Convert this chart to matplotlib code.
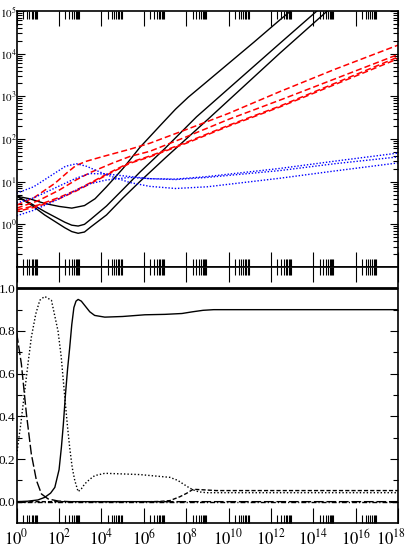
import numpy as np
import matplotlib.pyplot as plt
from matplotlib.ticker import FixedLocator, NullFormatter
from matplotlib.transforms import ScaledTranslation

plt.rcParams['font.family'] = ['Liberation Serif', 'DejaVu Serif']
plt.rcParams['mathtext.fontset'] = 'stix'

# ---------------- top panel (values are log10 x, log10 y) ----------------
blk_hi_lx = [0, 0.6, 1.32, 2.0, 2.6, 3.2, 3.7, 4.24, 5.02, 5.81, 6.8, 7.5, 8.1, 8.8, 10, 11.2, 12.42, 13.3]
blk_hi_ly = [0.66, 0.6, 0.49, 0.42, 0.38, 0.44, 0.6, 0.88, 1.31, 1.80, 2.33, 2.70, 2.98, 3.27, 3.77, 4.27, 4.79, 5.15]

blk_mid_lx = [0, 0.7, 1.32, 2.27, 2.6, 2.9, 3.2, 3.5, 4.24, 5.02, 5.81, 7, 8.49, 10.5, 12.42, 14.4]
blk_mid_ly = [0.66, 0.48, 0.30, 0.05, -0.02, -0.04, 0.0, 0.12, 0.43, 0.82, 1.22, 1.78, 2.52, 3.4, 4.24, 5.1]

blk_lo_lx = [0, 0.7, 1.32, 2.27, 2.6, 2.9, 3.2, 3.5, 4.24, 5.02, 5.81, 7, 9, 12.42, 15]
blk_lo_ly = [0.66, 0.45, 0.22, -0.08, -0.17, -0.21, -0.18, -0.06, 0.22, 0.62, 1.0, 1.55, 2.45, 4.01, 5.15]

red_a_lx = [0, 0.8, 1.8, 2.4, 2.8, 3.3, 4, 5.34, 6.28, 8, 10, 12.42, 15, 18]
red_a_ly = [0.45, 0.62, 0.96, 1.22, 1.38, 1.48, 1.58, 1.76, 1.9, 2.22, 2.6, 3.11, 3.63, 4.2]

red_b_lx = [0, 1, 2, 2.8, 3.5, 4.5, 5.34, 6.28, 8, 10, 12.42, 18]
red_b_ly = [0.38, 0.55, 0.8, 1.04, 1.22, 1.43, 1.59, 1.71, 2.05, 2.46, 2.91, 3.98]

red_c_lx = [0, 1, 2, 2.8, 3.5, 4.5, 5.34, 6.28, 8, 10, 12.42, 18]
red_c_ly = [0.34, 0.45, 0.63, 0.80, 0.98, 1.24, 1.45, 1.6, 1.92, 2.32, 2.77, 3.92]
red_d_ly = [0.30, 0.42, 0.60, 0.78, 0.96, 1.22, 1.43, 1.58, 1.90, 2.30, 2.75, 3.88]

blue_a_lx = [0, 0.8, 1.8, 2.3, 2.82, 3.3, 4.24, 5.34, 6.28, 7.5, 9, 12.42, 15, 18]
blue_a_ly = [0.73, 0.88, 1.2, 1.36, 1.42, 1.36, 1.16, 0.98, 0.89, 0.84, 0.88, 1.08, 1.25, 1.44]

blue_b_lx = [0, 0.8, 1.8, 2.8, 3.45, 4.24, 5.34, 6.28, 7.5, 9, 12.42, 15, 18]
blue_b_ly = [0.5, 0.62, 0.85, 1.08, 1.19, 1.18, 1.12, 1.07, 1.06, 1.12, 1.31, 1.48, 1.67]
blue_c_ly = [0.2, 0.33, 0.55, 0.8, 0.95, 1.04, 1.1, 1.07, 1.05, 1.1, 1.26, 1.42, 1.58]

# ---------------- bottom panel (log10 x, fraction) ----------------
solid_lx = [0, 0.5, 1.0, 1.32, 1.6, 1.8, 2.0, 2.11, 2.2, 2.3, 2.4, 2.5, 2.6, 2.7, 2.8, 2.9,
            3.05, 3.21, 3.45, 3.68, 4.16, 5, 6.05, 7, 7.8, 8.3, 8.8, 9.3, 10, 12, 18]
solid_y = [0, 0.002, 0.008, 0.02, 0.04, 0.067, 0.15, 0.255, 0.36, 0.5, 0.62, 0.72, 0.83, 0.91, 0.94,
           0.948, 0.94, 0.92, 0.89, 0.873, 0.865, 0.868, 0.876, 0.878, 0.882, 0.89, 0.897, 0.9, 0.9, 0.9, 0.9]

dot_lx = [0, 0.2, 0.38, 0.55, 0.69, 0.9, 1.09, 1.32, 1.64, 1.95, 2.1, 2.27, 2.4, 2.5, 2.62, 2.74, 2.9,
          3.05, 3.21, 3.45, 3.68, 4.16, 5, 5.81, 7.23, 7.6, 7.86, 8.1, 8.33, 8.6, 8.96, 10, 18]
dot_y = [0.22, 0.37, 0.52, 0.66, 0.77, 0.88, 0.944, 0.962, 0.944, 0.80, 0.68, 0.49, 0.35, 0.255, 0.16,
         0.1, 0.047, 0.06, 0.083, 0.105, 0.122, 0.133, 0.13, 0.127, 0.114, 0.1, 0.083, 0.068, 0.055, 0.046,
         0.042, 0.042, 0.042]

ldash_lx = [0, 0.22, 0.46, 0.69, 0.93, 1.17, 1.48, 1.95, 2.5, 18]
ldash_y = [0.79, 0.646, 0.41, 0.224, 0.1, 0.036, 0.013, 0.003, 0.0, 0.0]

sdash_lx = [0, 6.3, 6.75, 7.23, 7.7, 8.02, 8.33, 8.72, 9.43, 10, 18]
sdash_y = [0, 0.0, 0.001, 0.005, 0.023, 0.039, 0.058, 0.056, 0.052, 0.052, 0.052]

ddot_lx = [0, 18]
ddot_y = [0, 0]

W, H = 407, 553
fig = plt.figure(figsize=(W / 100, H / 100), dpi=100)
x0, x1 = 16.7 / W, 398 / W
ax1 = fig.add_axes([x0, 1 - 267 / H, x1 - x0, 256 / H])
ax2 = fig.add_axes([x0, 1 - 523 / H, x1 - x0, 256 / H])


def p(v):
    return np.power(10.0, v)


lw = 1.0
ax1.plot(p(blk_hi_lx), p(blk_hi_ly), color='black', lw=lw)
ax1.plot(p(blk_mid_lx), p(blk_mid_ly), color='black', lw=lw)
ax1.plot(p(blk_lo_lx), p(blk_lo_ly), color='black', lw=lw)
red_ls = (0, (4, 2))
ax1.plot(p(red_a_lx), p(red_a_ly), color='red', lw=1.1, ls=red_ls)
ax1.plot(p(red_b_lx), p(red_b_ly), color='red', lw=1.1, ls=red_ls)
ax1.plot(p(red_c_lx), p(red_c_ly), color='red', lw=1.1, ls=red_ls)
ax1.plot(p(red_c_lx), p(red_d_ly), color='red', lw=1.1, ls=(2, (4, 2)))
blue_ls = (0, (1, 1.3))
ax1.plot(p(blue_a_lx), p(blue_a_ly), color='blue', lw=1.0, ls=blue_ls)
ax1.plot(p(blue_b_lx), p(blue_b_ly), color='blue', lw=1.0, ls=blue_ls)
ax1.plot(p(blue_b_lx), p(blue_c_ly), color='blue', lw=1.0, ls=blue_ls)

ax2.plot(p(solid_lx), solid_y, color='black', lw=lw)
ax2.plot(p(dot_lx), dot_y, color='black', lw=lw, ls=(0, (1, 1.5)))
ax2.plot(p(ldash_lx), ldash_y, color='black', lw=lw, ls=(0, (7, 2)))
ax2.plot(p(sdash_lx), sdash_y, color='black', lw=lw, ls=(0, (3, 1.5)))
ax2.plot(p(ddot_lx), ddot_y, color='black', lw=lw, ls=(0, (3.5, 1.5, 0.8, 1.5)))
ax2.axhline(1.0, color='black', lw=2)

xmaj = [10.0 ** k for k in range(0, 19, 2)]
xmin = [m * 10.0 ** k for k in range(0, 17, 2) for m in range(2, 10)]

for ax in (ax1, ax2):
    ax.set_xscale('log')
    ax.set_xlim(1, 1e18)
    ax.xaxis.set_major_locator(FixedLocator(xmaj))
    ax.xaxis.set_minor_locator(FixedLocator(xmin))
    ax.xaxis.set_minor_formatter(NullFormatter())
    ax.tick_params(axis='x', which='major', direction='in', top=True, bottom=True, length=11, width=0.8)
    ax.tick_params(axis='x', which='minor', direction='in', top=True, bottom=True, length=5.5, width=0.8)
    ax.tick_params(axis='y', which='major', direction='in', left=True, right=True, length=6, width=0.8)
    ax.tick_params(axis='y', which='minor', direction='in', left=True, right=True, length=3.5, width=0.8)
    for s in ax.spines.values():
        s.set_linewidth(1.2)

ax1.set_yscale('log')
ax1.set_ylim(0.1, 1e5)
ax1.yaxis.set_major_locator(FixedLocator([10.0 ** k for k in range(0, 6)]))
ax1.yaxis.set_minor_locator(FixedLocator([m * 10.0 ** k for k in range(-1, 5) for m in range(2, 10)]))
ax1.yaxis.set_minor_formatter(NullFormatter())
ax1.set_yticklabels([r'$10^{%d}$' % k for k in range(0, 6)], fontsize=8)
ax1.tick_params(axis='y', which='major', pad=0)
ax1.set_xticklabels([])

ytick_vals = [0.0, 0.2, 0.4, 0.6, 0.8, 1.0]
ytick_text = ['0.0', '0.2', '0.4', '0.6', '0.8', '1.0']
ax2.set_ylim(-0.1, 1.1)
ax2.yaxis.set_major_locator(FixedLocator(ytick_vals))
ax2.yaxis.set_minor_locator(FixedLocator([0.1, 0.3, 0.5, 0.7, 0.9]))
ax2.set_yticklabels(ytick_text, fontsize=9.5)
ax2.tick_params(axis='y', which='major', pad=0.8)
ax2.set_xticklabels([r'$10^{%d}$' % k for k in range(0, 19, 2)], fontsize=12)
ax2.tick_params(axis='x', which='major', pad=4)

# keep the last x label inside the canvas
last = ax2.get_xticklabels()[-1]
last.set_horizontalalignment('right')
last.set_transform(last.get_transform() + ScaledTranslation(8 / 100, 0, fig.dpi_scale_trans))

fig.savefig('out.png', dpi=100)
